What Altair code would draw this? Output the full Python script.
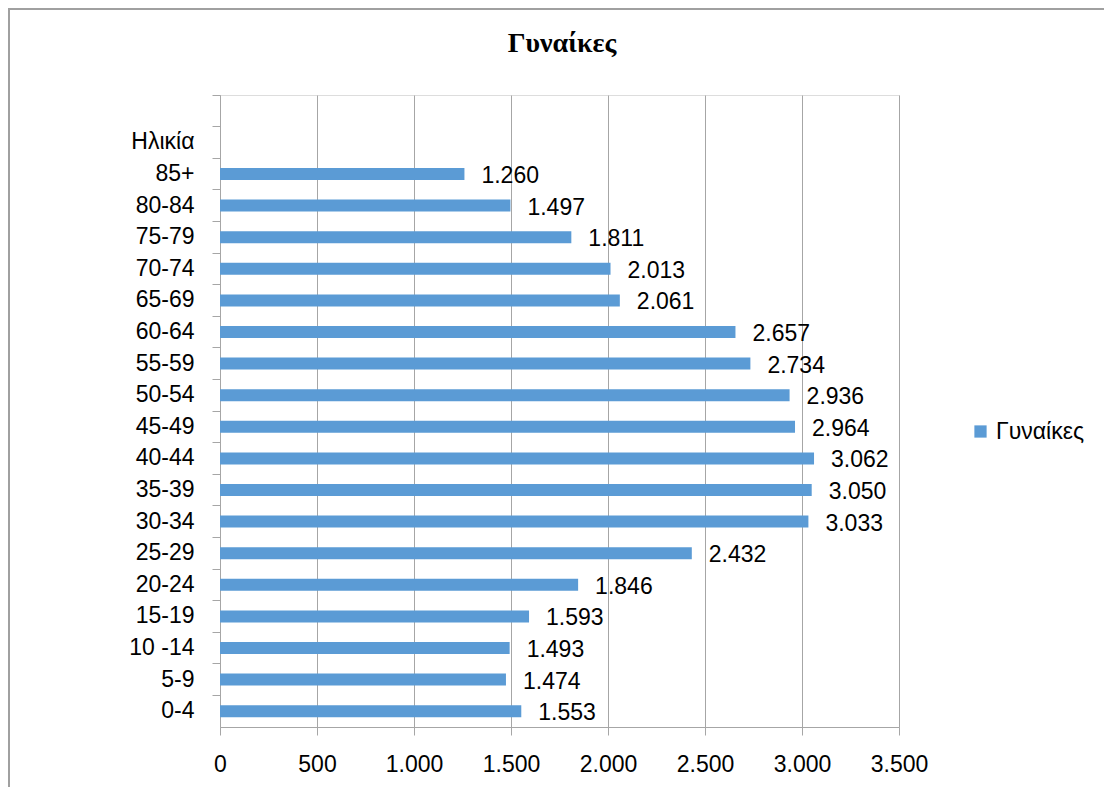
import altair as alt
import pandas as pd

categories = [" ", "Ηλικία", "85+", "80-84", "75-79", "70-74", "65-69", "60-64", "55-59",
              "50-54", "45-49", "40-44", "35-39", "30-34", "25-29", "20-24", "15-19",
              "10 -14", "5-9", "0-4"]
values = [None, None, 1260, 1497, 1811, 2013, 2061, 2657, 2734,
          2936, 2964, 3062, 3050, 3033, 2432, 1846, 1593,
          1493, 1474, 1553]
series_name = "Γυναίκες"
title_text = "Γυναίκες"
x_ticks = [0, 500, 1000, 1500, 2000, 2500, 3000, 3500]

df = pd.DataFrame({"age": categories, "v": values})
df["series"] = series_name

FONT = "Liberation Sans"
GRAY = "#A6A6A6"
BLUE = "#5B9BD5"

y_enc = alt.Y("age:N", sort=categories,
              scale=alt.Scale(domain=categories, paddingInner=0, paddingOuter=0),
              axis=alt.Axis(title=None, grid=False, bandPosition=0,
                            domainColor=GRAY, tickColor=GRAY, tickSize=8,
                            labelFont=FONT, labelFontSize=23, labelColor="#000000",
                            labelPadding=18))
x_enc = alt.X("v:Q", scale=alt.Scale(domain=[0, 3500], nice=False),
              axis=alt.Axis(title=None, values=x_ticks, grid=True, gridColor=GRAY,
                            domainColor=GRAY, tickColor=GRAY, tickSize=8,
                            labelFont=FONT, labelFontSize=23, labelColor="#000000",
                            labelPadding=18, labelFlush=False, labelOverlap=False,
                            labelExpr="replace(format(datum.value, ','), ',', '.')"))

base = alt.Chart(df)

bars = base.mark_bar(size=12).encode(
    x=x_enc,
    y=y_enc,
    color=alt.Color("series:N",
                    scale=alt.Scale(domain=[series_name], range=[BLUE]),
                    legend=alt.Legend(title=None, orient="none", legendX=749, legendY=325,
                                      symbolType="square", symbolSize=150,
                                      symbolStrokeWidth=0,
                                      labelFont=FONT, labelFontSize=23,
                                      labelColor="#000000", labelOffset=4)),
)

labels = base.transform_filter("datum.v != null").transform_calculate(
    lbl="replace(format(datum.v, ','), ',', '.')"
).mark_text(align="left", baseline="middle", dx=17, dy=2, font=FONT, fontSize=23,
            color="#000000").encode(
    x=alt.X("v:Q"),
    y=alt.Y("age:N", sort=categories),
    text="lbl:N",
)

single = alt.Data(values=[{"t": title_text}])
title_mark = alt.Chart(single).mark_text(
    font="Liberation Serif", fontSize=28, fontWeight="bold", color="#000000",
    align="center", baseline="alphabetic").encode(
    x=alt.value(342), y=alt.value(-43), text="t:N")

left_border = alt.Chart(single).mark_rule(color="#A0A0A0", strokeWidth=2).encode(
    x=alt.value(-211), y=alt.value(-87), y2=alt.value(700))
top_border = alt.Chart(single).mark_rule(color="#A0A0A0", strokeWidth=2).encode(
    x=alt.value(-212), x2=alt.value(900), y=alt.value(-86))

chart = alt.layer(bars, labels, title_mark, left_border, top_border).properties(
    width=679, height=632,
    autosize=alt.AutoSizeParams(type="none"),
    padding={"left": 212, "top": 87, "right": 205, "bottom": 60},
).configure_view(stroke=None).configure(background="white")

chart.save("out.html", embed_options={"renderer": "svg", "actions": False})
